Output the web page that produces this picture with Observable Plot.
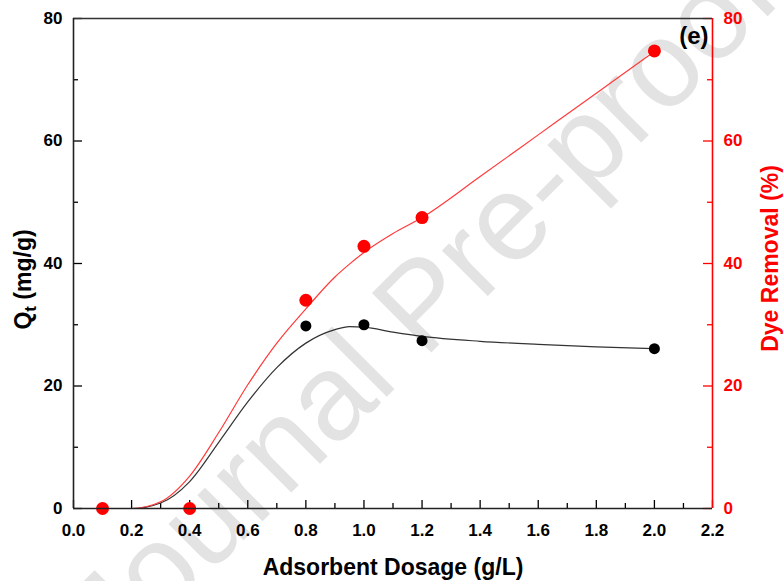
<!DOCTYPE html>
<html>
<head>
<meta charset="utf-8">
<script src="https://cdn.jsdelivr.net/npm/d3@7"></script>
<script src="https://cdn.jsdelivr.net/npm/@observablehq/plot@0.6"></script>
<style>
  html, body { margin: 0; padding: 0; background: #fff; }
  #chart svg { display: block; }
</style>
</head>
<body>
<div id="chart"></div>
<script>
// Measured points
const dosage = [0.1, 0.4, 0.8, 1.0, 1.2, 2.0];
const qtValues = [0, 0, 29.8, 30.0, 27.4, 26.1];
const removalValues = [0, 0, 34.0, 42.8, 47.5, 74.7];

// Fitted curves
const fitX = [0.1, 0.2, 0.3, 0.4, 0.5, 0.6, 0.7, 0.8, 0.9, 0.95, 1.0, 1.1, 1.2, 1.4, 1.6, 1.8, 2.0];
const qtFit = [0, 0, 0.9, 4.4, 10.8, 17.4, 23.0, 27.0, 29.2, 29.7, 29.6, 28.8, 28.1, 27.3, 26.8, 26.4, 26.1];
const removalFit = [0, 0, 1.1, 5.3, 12.4, 20.2, 27.0, 32.6, 37.8, 39.9, 41.8, 44.9, 47.5, 54.2, 61.0, 67.8, 74.6];

// Axis ticks
const xMajor = [0.0, 0.2, 0.4, 0.6, 0.8, 1.0, 1.2, 1.4, 1.6, 1.8, 2.0, 2.2];
const xMinor = [0.1, 0.3, 0.5, 0.7, 0.9, 1.1, 1.3, 1.5, 1.7, 1.9, 2.1];
const yMajor = [0, 20, 40, 60, 80];
const yMinor = [10, 30, 50, 70];

const xLabel = "Adsorbent Dosage (g/L)";
const yLabel = "Qt (mg/g)";
const y2Label = "Dye Removal (%)";
const panelLabel = "(e)";
const watermark = "Journal Pre-proof";

const W = 783, H = 581;
const mL = 73, mR = 71, mT = 18, mB = 73;
const plotW = W - mL - mR, plotH = H - mT - mB;
const RED = "#ff0000";
const FONT = "'Liberation Sans', Arial, sans-serif";

const pts = dosage.map((d, i) => ({x: d, qt: qtValues[i], rem: removalValues[i]}));
const fit = fitX.map((d, i) => ({x: d, qt: qtFit[i], rem: removalFit[i]}));

const chart = Plot.plot({
  width: W, height: H,
  marginLeft: mL, marginRight: mR, marginTop: mT, marginBottom: mB,
  style: {fontFamily: FONT, background: "#fff", overflow: "hidden"},
  x: {domain: [0, 2.2]},
  y: {domain: [0, 80]},
  marks: [
    Plot.text([watermark], {text: d => d, frameAnchor: "middle", dx: 30, dy: 42, rotate: -45,
      textAnchor: "middle", fontSize: 122, fill: "#e3e3e3", fontFamily: FONT}),
    // ticks (inward)
    Plot.ruleY(yMajor, {y: d => d, insetRight: plotW - 9, stroke: "#000", strokeWidth: 1.3}),
    Plot.ruleY(yMinor, {y: d => d, insetRight: plotW - 5, stroke: "#000", strokeWidth: 1.3}),
    Plot.ruleY(yMajor, {y: d => d, insetLeft: plotW - 9, stroke: RED, strokeWidth: 1.3}),
    Plot.ruleY(yMinor, {y: d => d, insetLeft: plotW - 5, stroke: RED, strokeWidth: 1.3}),
    Plot.ruleX(xMajor, {x: d => d, insetTop: plotH - 8, stroke: "#000", strokeWidth: 1.3}),
    Plot.ruleX(xMinor, {x: d => d, insetTop: plotH - 5, stroke: "#000", strokeWidth: 1.3}),
    // axes tick labels
    Plot.axisX({ticks: xMajor, tickSize: 0, tickPadding: 15, tickFormat: d3.format(".1f"),
      fontSize: 17, fontWeight: "bold", label: null, fill: "#000"}),
    Plot.axisY({ticks: yMajor, tickSize: 0, tickPadding: 11, tickFormat: d3.format("d"),
      fontSize: 17, fontWeight: "bold", label: null, fill: "#000"}),
    Plot.axisY({anchor: "right", ticks: yMajor, tickSize: 0, tickPadding: 11, tickFormat: d3.format("d"),
      fontSize: 17, fontWeight: "bold", label: null, fill: RED, color: RED}),
    // curves
    Plot.line(fit, {x: "x", y: "qt", curve: "monotone-x", stroke: "#333", strokeWidth: 1.2}),
    Plot.line(fit, {x: "x", y: "rem", curve: "monotone-x", stroke: "#ff3a3a", strokeWidth: 1.2}),
    // points
    Plot.dot(pts, {x: "x", y: "qt", r: 5.5, fill: "#000"}),
    Plot.dot(pts, {x: "x", y: "rem", r: 6.5, fill: RED}),
    // frame
    Plot.ruleY([80], {stroke: "#333", strokeWidth: 1.6}),
    Plot.ruleX([0], {stroke: "#222", strokeWidth: 1.6}),
    Plot.ruleY([0], {stroke: "#222", strokeWidth: 1.6}),
    Plot.ruleX([2.2], {stroke: RED, strokeWidth: 1.6}),
    // labels
    Plot.text([xLabel], {text: d => d, frameAnchor: "bottom", dy: 66, textAnchor: "middle", lineAnchor: "bottom",
      fontSize: 23, fontWeight: "bold", fill: "#000"}),
    Plot.text([yLabel], {text: d => d, frameAnchor: "left", dx: -50, dy: 16, rotate: -90, textAnchor: "middle",
      fontSize: 23, fontWeight: "bold", fill: "#000"}),
    Plot.text([y2Label], {text: d => d, frameAnchor: "right", dx: 58, dy: -5, rotate: -90, textAnchor: "middle",
      fontSize: 23, fontWeight: "bold", fill: RED}),
    Plot.text([panelLabel], {text: d => d, frameAnchor: "top-right", dx: -4, dy: 8, textAnchor: "end", lineAnchor: "top",
      fontSize: 24, fontWeight: "bold", fill: "#000"})
  ]
});

// subscript for Q_t
chart.querySelectorAll("text").forEach(t => {
  if (t.textContent === yLabel) {
    t.textContent = "";
    const ns = "http://www.w3.org/2000/svg";
    const a = document.createElementNS(ns, "tspan"); a.textContent = "Q";
    const b = document.createElementNS(ns, "tspan"); b.textContent = "t";
    b.setAttribute("font-size", "17"); b.setAttribute("dy", "5");
    const c = document.createElementNS(ns, "tspan"); c.textContent = " (mg/g)"; c.setAttribute("dy", "-5");
    t.append(a, b, c);
  }
});

document.getElementById("chart").append(chart);
</script>
</body>
</html>
